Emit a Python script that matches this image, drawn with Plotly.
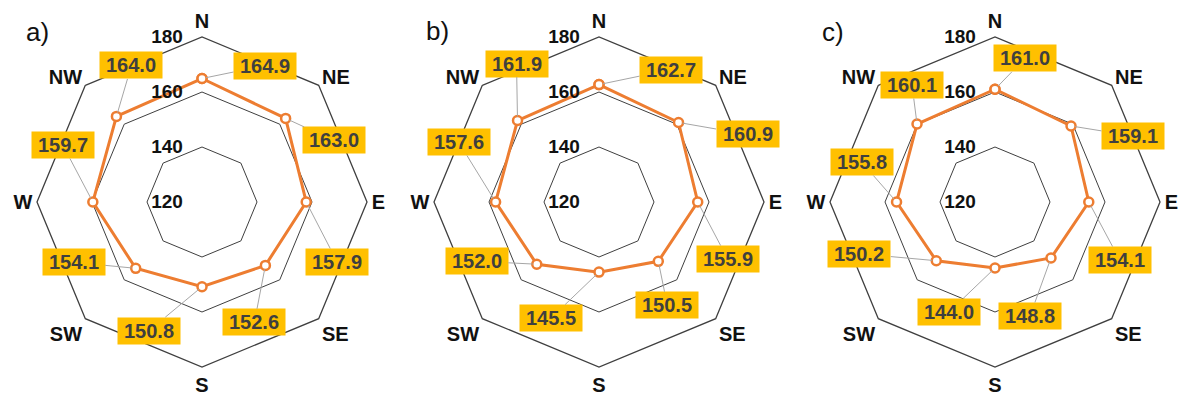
import math
import plotly.graph_objects as go

# Compass sectors and mean values for the three panels
directions = ["N", "NE", "E", "SE", "S", "SW", "W", "NW"]
panel_tags = ["a)", "b)", "c)"]
values_a = [164.9, 163.0, 157.9, 152.6, 150.8, 154.1, 159.7, 164.0]
values_b = [162.7, 160.9, 155.9, 150.5, 145.5, 152.0, 157.6, 161.9]
values_c = [161.0, 159.1, 154.1, 148.8, 144.0, 150.2, 155.8, 160.1]
radial_ticks = [120, 140, 160, 180]

# label-box offsets (pixels) from each point, per panel
offsets_a = [(63, -13), (48, 22), (31, 60), (-11, 57), (-53, 44), (-62, -6), (-30, -57), (15, -51)]
offsets_b = [(72, -15), (69, 12), (30, 57), (9, 44), (-48, 46), (-60, -3), (-37, -60), (-1, -57)]
offsets_c = [(30, -31), (62, 10), (31, 58), (-21, 58), (-46, 44), (-77, -7), (-35, -40), (-5, -39)]

W, H = 1181, 401
R_MIN, R_MAX = 120, 180
centers_px = [(202, 202), (599, 202), (995, 202)]
radius_px = 165
tag_pos_px = [(37, 32), (437, 31), (833, 32)]

LINE_ORANGE = "#ED7D31"
BOX_AMBER = "#FFC000"
GRID = "#3F3F3F"
LEADER = "#A6A6A6"
FONT = "Liberation Sans, Arial, sans-serif"

fig = go.Figure()
layout = dict(
    width=W, height=H,
    margin=dict(l=0, r=0, t=0, b=0),
    paper_bgcolor="white", plot_bgcolor="white",
    showlegend=False,
    annotations=[],
)

series = [values_a, values_b, values_c]
offsets = [offsets_a, offsets_b, offsets_c]

for i, (vals, offs) in enumerate(zip(series, offsets)):
    cx, cy = centers_px[i]
    x0 = (cx - radius_px) / W
    x1 = (cx + radius_px) / W
    y0 = (H - cy - radius_px) / H
    y1 = (H - cy + radius_px) / H
    pname = "polar" if i == 0 else f"polar{i + 1}"
    xname = "x" if i == 0 else f"x{i + 1}"
    yname = "y" if i == 0 else f"y{i + 1}"

    fig.add_trace(go.Scatterpolar(
        r=vals + vals[:1],
        theta=directions + directions[:1],
        mode="lines+markers",
        line=dict(color=LINE_ORANGE, width=3),
        marker=dict(size=9, color="white", line=dict(color=LINE_ORANGE, width=2.5)),
        subplot=pname,
        hoverinfo="skip",
    ))

    layout[pname] = dict(
        domain=dict(x=[x0, x1], y=[y0, y1]),
        bgcolor="white",
        gridshape="linear",
        radialaxis=dict(
            range=[R_MIN, R_MAX],
            tickvals=radial_ticks,
            ticktext=[str(t) for t in radial_ticks],
            angle=90,
            tickangle=90,
            side="counterclockwise",
            showline=False,
            ticks="outside",
            ticklen=12,
            tickcolor="rgba(0,0,0,0)",
            showgrid=True,
            gridcolor=GRID,
            gridwidth=1.3,
            tickfont=dict(family=FONT, size=19, color="#111111", weight="bold"),
        ),
        angularaxis=dict(
            type="category",
            categoryarray=directions,
            categoryorder="array",
            direction="clockwise",
            rotation=90,
            showgrid=False,
            showline=True,
            linecolor=GRID,
            linewidth=1.3,
            ticks="",
            tickfont=dict(family=FONT, size=20, color="#111111", weight="bold"),
        ),
    )

    # overlay axes sharing the polar frame, in radial units about the centre
    span = R_MAX - R_MIN
    layout["xaxis" if i == 0 else f"xaxis{i + 1}"] = dict(
        domain=[x0, x1], range=[-span, span], visible=False, fixedrange=True,
        anchor=yname,
    )
    layout["yaxis" if i == 0 else f"yaxis{i + 1}"] = dict(
        domain=[y0, y1], range=[-span, span], visible=False, fixedrange=True,
        anchor=xname,
    )

    px, py = [], []
    for k, v in enumerate(vals):
        ang = math.radians(45 * k)
        px.append((v - R_MIN) * math.sin(ang))
        py.append((v - R_MIN) * math.cos(ang))
    fig.add_trace(go.Scatter(
        x=px, y=py, mode="markers", marker=dict(opacity=0),
        xaxis=xname, yaxis=yname, hoverinfo="skip",
    ))

    for k, v in enumerate(vals):
        ax, ay = offs[k]
        layout["annotations"].append(dict(
            x=px[k], y=py[k], xref=xname, yref=yname,
            text=f"{v:.1f}",
            showarrow=True, arrowhead=0, arrowwidth=1, arrowcolor=LEADER,
            ax=ax, ay=ay, standoff=4,
            bgcolor=BOX_AMBER, borderpad=2, width=58, height=22,
            font=dict(family=FONT, size=20, color="#3F3F3F", weight="bold"),
        ))

    tx, ty = tag_pos_px[i]
    layout["annotations"].append(dict(
        x=tx / W, y=1 - ty / H, xref="paper", yref="paper",
        text=panel_tags[i], showarrow=False,
        font=dict(family=FONT, size=26, color="#111111"),
        xanchor="center", yanchor="middle",
    ))

fig.update_layout(**layout)
fig.write_html("out.html")
